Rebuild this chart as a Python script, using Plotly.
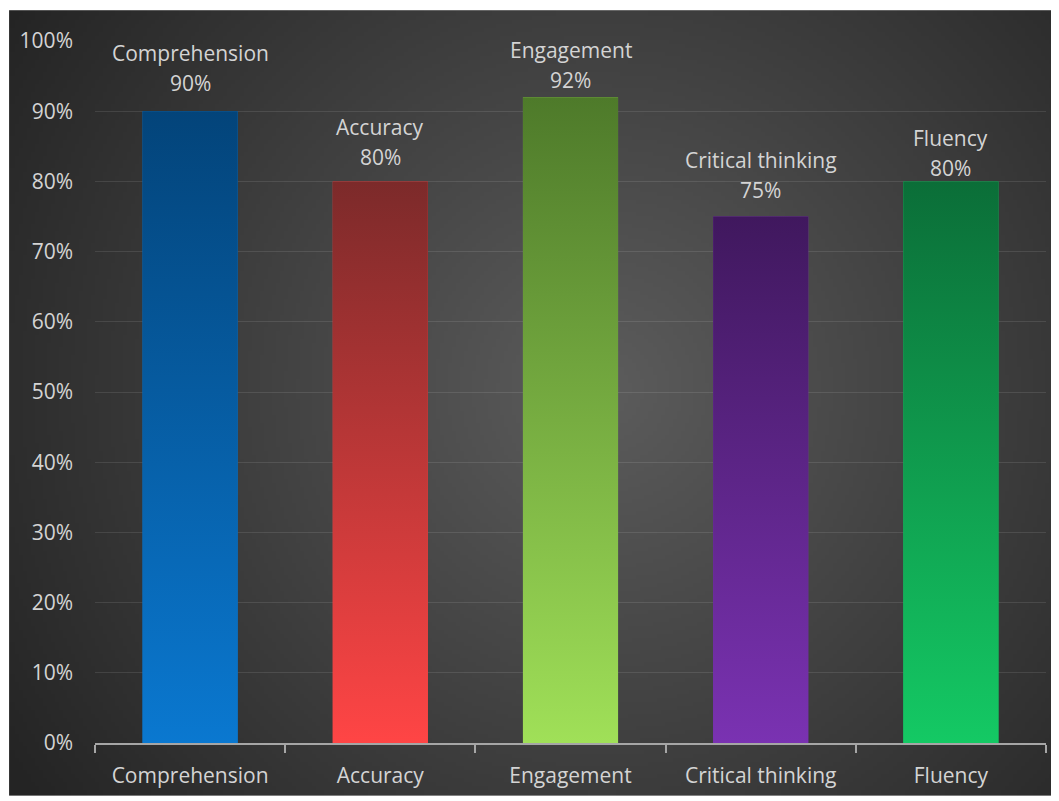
import math
import zlib
import struct
import base64
import plotly.graph_objects as go

# ---------------- data ----------------
categories = ["Comprehension", "Accuracy", "Engagement", "Critical thinking", "Fluency"]
values = [0.90, 0.80, 0.92, 0.75, 0.80]
y_tick_values = [0.0, 0.1, 0.2, 0.3, 0.4, 0.5, 0.6, 0.7, 0.8, 0.9, 1.0]
y_tick_labels = ["0%", "10%", "20%", "30%", "40%", "50%", "60%", "70%", "80%", "90%", "100%"]

# ---------------- styles ----------------
bottom_colors = ["#0a78d0", "#ff4545", "#a0e058", "#7a32b2", "#14c964"]
top_colors = ["#03447a", "#7c2a2a", "#4e7a2a", "#40185e", "#0b6e38"]
value_shift = [12, 8, 1, 11, -3]   # pixel offsets of the value labels above the bars
name_gap = 30                      # vertical distance between name and value lines
FONT = "Open Sans"
FS = 21
TEXT_COLOR = "#d4d4d4"
AXIS_COLOR = "#a6a6a6"

# page has an 8px body margin, so the figure is sized to fit the window
W, H = 1051, 793
ML, MR, MT, MB = 86, 13, 33, 53
PW, PH = W - ML - MR, H - MT - MB
OFF = 8  # screen offset of the figure


# ---------------- radial gradient background as a PNG ----------------
def make_bg_png():
    sc = 4
    x0, y0, x1, y1 = 0, 2, W, H
    w = (x1 - x0) // sc
    h = (y1 - y0) // sc
    cx, cy = 600 - OFF, 390 - OFF
    rows = []
    for j in range(h):
        py = y0 + (j + 0.5) * sc
        row = bytearray([0])
        for i in range(w):
            px = x0 + (i + 0.5) * sc
            d = math.hypot(px - cx, py - cy)
            g = max(36, 92 - 0.08 * d)
            row.append(int(round(g)))
        rows.append(bytes(row))
    raw = b"".join(rows)

    def chunk(t, d):
        return struct.pack(">I", len(d)) + t + d + struct.pack(">I", zlib.crc32(t + d) & 0xFFFFFFFF)

    png = (b"\x89PNG\r\n\x1a\n"
           + chunk(b"IHDR", struct.pack(">IIBBBBB", w, h, 8, 0, 0, 0, 0))
           + chunk(b"IDAT", zlib.compress(raw, 9))
           + chunk(b"IEND", b""))
    return "data:image/png;base64," + base64.b64encode(png).decode()


bg_src = make_bg_png()

fig = go.Figure()

# base bars (data)
fig.add_trace(go.Bar(
    x=categories, y=values,
    marker=dict(color=bottom_colors, line=dict(width=0)),
    hoverinfo="x+y", showlegend=False,
))

# vertical gradient overlay for every bar (same geometry, numeric twin axis)
half = 0.25
for i, (v, cb, ct) in enumerate(zip(values, bottom_colors, top_colors)):
    fig.add_trace(go.Scatter(
        x=[i - half, i + half, i + half, i - half, i - half],
        y=[0, 0, v, v, 0],
        xaxis="x2", yaxis="y",
        mode="lines", line=dict(width=0),
        fill="toself",
        fillgradient=dict(type="vertical", colorscale=[[0, cb], [1, ct]]),
        hoverinfo="skip", showlegend=False,
    ))

# data labels: name above value
for i, (c, v) in enumerate(zip(categories, values)):
    fig.add_annotation(
        x=c, y=v, xref="x", yref="y", text=f"{v:.0%}",
        showarrow=False, yanchor="bottom", yshift=value_shift[i],
        font=dict(family=FONT, size=FS, color=TEXT_COLOR),
    )
    fig.add_annotation(
        x=c, y=v, xref="x", yref="y", text=c,
        showarrow=False, yanchor="bottom", yshift=value_shift[i] + name_gap,
        font=dict(family=FONT, size=FS, color=TEXT_COLOR),
    )

fig.add_layout_image(
    source=bg_src, xref="paper", yref="paper",
    x=(0 - ML) / PW, y=1 + (MT - 2) / PH,
    sizex=W / PW, sizey=(H - 2) / PH,
    xanchor="left", yanchor="top", sizing="stretch", layer="below",
)

fig.update_layout(
    width=W, height=H, autosize=False,
    margin=dict(l=ML, r=MR, t=MT, b=MB, pad=0),
    paper_bgcolor="white",
    plot_bgcolor="rgba(0,0,0,0)",
    bargap=0.5,
    showlegend=False,
    xaxis=dict(
        type="category", range=[-0.5, 4.5],
        showline=True, linecolor=AXIS_COLOR, linewidth=2,
        ticks="outside", tickson="boundaries", ticklen=8, tickwidth=2, tickcolor=AXIS_COLOR,
        ticklabelstandoff=13,
        tickfont=dict(family=FONT, size=FS, color=TEXT_COLOR),
        showgrid=False, zeroline=False, fixedrange=True,
    ),
    xaxis2=dict(
        overlaying="x", range=[-0.5, 4.5], visible=False, fixedrange=True,
    ),
    yaxis=dict(
        range=[0, 1], tickmode="array", tickvals=y_tick_values, ticktext=y_tick_labels,
        showgrid=True, gridcolor="rgba(255,255,255,0.10)", gridwidth=1,
        showline=False, zeroline=False, ticks="",
        ticklabelstandoff=21,
        tickfont=dict(family=FONT, size=FS, color=TEXT_COLOR),
        fixedrange=True,
    ),
)

fig.write_html("out.html")
